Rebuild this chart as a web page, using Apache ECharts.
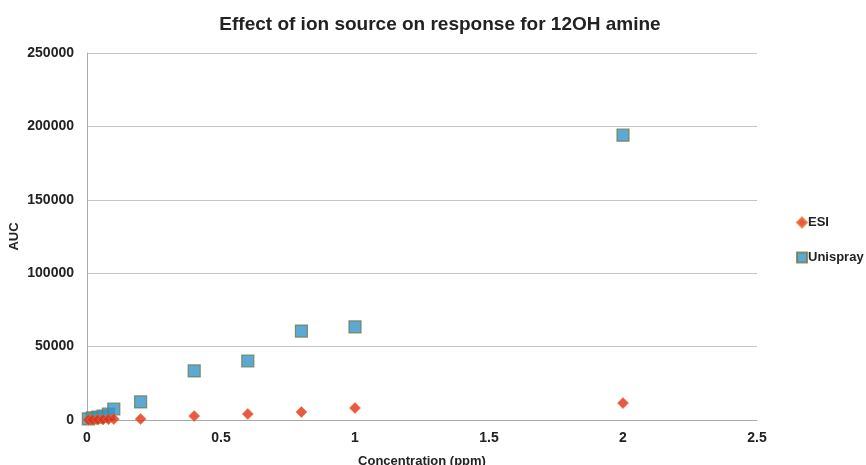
<!DOCTYPE html>
<html>
<head>
<meta charset="utf-8">
<script src="https://cdn.jsdelivr.net/npm/echarts@6/dist/echarts.min.js"></script>
<style>
  html, body { margin: 0; padding: 0; background: #fff; }
  #chart { width: 866px; height: 465px; }
</style>
</head>
<body>
<div id="chart"></div>
<script>
// concentration (ppm) and AUC
const esiConc = [0.005, 0.02, 0.04, 0.06, 0.08, 0.1, 0.2, 0.4, 0.6, 0.8, 1, 2]
const esiAuc = [100, 200, 300, 400, 500, 600, 700, 2700, 4100, 5400, 8200, 11500]
const uniConc = [0.005, 0.02, 0.04, 0.06, 0.08, 0.1, 0.2, 0.4, 0.6, 0.8, 1, 2]
const uniAuc = [700, 1400, 2000, 2700, 4100, 7500, 12300, 33400, 40200, 60600, 63400, 194000]
const xTicks = [0, 0.5, 1, 1.5, 2, 2.5]
const yTicks = [0, 50000, 100000, 150000, 200000, 250000]

const pairs = (xs, ys) => xs.map((x, i) => [x, ys[i]])

const chart = echarts.init(document.getElementById('chart'), null, { renderer: 'canvas' })
const font = 'Liberation Sans, Arial, sans-serif'

chart.setOption({
  animation: false,
  textStyle: { fontFamily: font },
  title: {
    text: 'Effect of ion source on response for 12OH amine',
    left: 435,
    textAlign: 'center',
    top: 10,
    textStyle: { fontSize: 19, fontWeight: 'bold', color: '#222', fontFamily: font }
  },
  legend: {
    orient: 'vertical',
    left: 791,
    top: 211,
    itemGap: 22,
    itemWidth: 10,
    itemHeight: 10,
    textStyle: { fontSize: 13, fontWeight: 'bold', color: '#222', padding: [0, 0, 0, -4] },
    data: [
      { name: 'ESI', icon: 'diamond' },
      { name: 'Unispray', icon: 'rect' }
    ]
  },
  grid: { left: 87, right: 109, top: 53, bottom: 45, outerBoundsMode: 'none', containLabel: false },
  xAxis: {
    type: 'value',
    min: xTicks[0],
    max: xTicks[xTicks.length - 1],
    interval: 0.5,
    name: 'Concentration (ppm)',
    nameLocation: 'middle',
    nameGap: 35,
    nameMoveOverlap: false,
    nameTextStyle: { fontSize: 13, fontWeight: 'bold', color: '#222' },
    axisLine: { lineStyle: { color: '#aaa' } },
    axisTick: { show: false },
    splitLine: { show: false },
    axisLabel: { fontSize: 14, fontWeight: 'bold', color: '#222', margin: 11 }
  },
  yAxis: {
    type: 'value',
    min: yTicks[0],
    max: yTicks[yTicks.length - 1],
    interval: 50000,
    name: 'AUC',
    nameLocation: 'middle',
    nameGap: 66,
    nameMoveOverlap: false,
    nameTextStyle: { fontSize: 13, fontWeight: 'bold', color: '#222' },
    axisLine: { show: true, lineStyle: { color: '#aaa' } },
    axisTick: { show: false },
    splitLine: { lineStyle: { color: '#c4c4c4' } },
    axisLabel: { fontSize: 14, fontWeight: 'bold', color: '#222', margin: 13, formatter: v => String(v) }
  },
  series: [
    {
      name: 'ESI',
      type: 'scatter',
      symbol: 'diamond',
      symbolSize: 11,
      itemStyle: { color: '#e2301a', borderColor: '#ee7a30', borderWidth: 0.8 },
      data: pairs(esiConc, esiAuc),
      z: 3
    },
    {
      name: 'Unispray',
      type: 'scatter',
      symbol: 'rect',
      symbolSize: 12,
      itemStyle: { color: '#3593c8', borderColor: '#6f7a4c', borderWidth: 1.2 },
      data: pairs(uniConc, uniAuc),
      z: 2
    }
  ]
})
</script>
</body>
</html>
